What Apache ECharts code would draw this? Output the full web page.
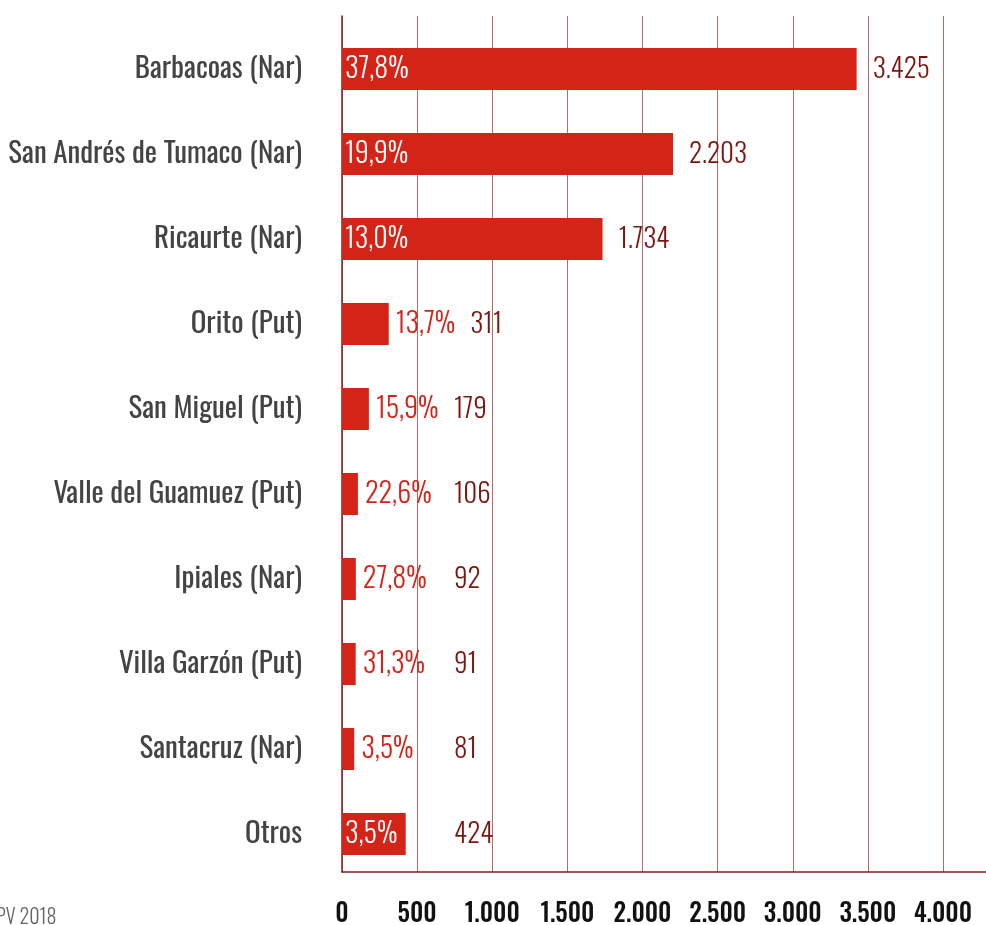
<!DOCTYPE html>
<html>
<head>
<meta charset="utf-8">
<script src="https://cdn.jsdelivr.net/npm/echarts@6/dist/echarts.min.js"></script>
<style>
html,body{margin:0;padding:0;background:#fff;}
#c{width:986px;height:925px;}
</style>
</head>
<body>
<div id="c"></div>
<script>
const categories = ['Barbacoas (Nar)', 'San Andrés de Tumaco (Nar)', 'Ricaurte (Nar)', 'Orito (Put)', 'San Miguel (Put)', 'Valle del Guamuez (Put)', 'Ipiales (Nar)', 'Villa Garzón (Put)', 'Santacruz (Nar)', 'Otros'];
const values = [3425, 2203, 1734, 311, 179, 106, 92, 91, 81, 424];
const shares = ['37,8%', '19,9%', '13,0%', '13,7%', '15,9%', '22,6%', '27,8%', '31,3%', '3,5%', '3,5%'];
const xTicks = [0, 500, 1000, 1500, 2000, 2500, 3000, 3500, 4000];

const FONT = "Oswald, 'Roboto Condensed', 'DejaVu Sans Condensed', sans-serif";
const RED = '#d42418';
const DARK = '#7a1710';
const INSIDE_MIN = 400;
const VALUE_LABEL_MIN = 745;
const X_MAX = 4286;
const PCT_SIZE = 28;
const PCT_W = 300;
const VAL_SIZE = 27;
const VAL_W = 300;

function fmt(n) { return String(n).replace(/\B(?=(\d{3})+(?!\d))/g, '.'); }

const mctx = document.createElement('canvas').getContext('2d');
function textW(t, size, weight) { mctx.font = weight + ' ' + size + 'px ' + FONT; return mctx.measureText(t).width; }

const chart = echarts.init(document.getElementById('c'), null, {renderer: 'canvas'});
chart.setOption({
  animation: false,
  backgroundColor: '#fff',
  grid: [
    {left: 342, right: 0, top: 16, bottom: 53, outerBoundsMode: 'none'},
    {left: 342, right: 0, top: 26.5, bottom: 48.5, outerBoundsMode: 'none'}
  ],
  xAxis: [
    {
      gridIndex: 0, type: 'value', min: 0, max: X_MAX, interval: 500,
      axisLine: {show: true, lineStyle: {color: '#8b1c1c', width: 1.5}},
      axisTick: {show: false},
      splitLine: {show: true, lineStyle: {color: '#b46a6a', width: 1}},
      axisLabel: {
        margin: 30, color: '#111', fontFamily: FONT, fontSize: 25, fontWeight: 500,
        formatter: v => xTicks.indexOf(v) >= 0 ? fmt(v) : ''
      }
    },
    {gridIndex: 1, type: 'value', min: 0, max: X_MAX, show: false}
  ],
  yAxis: [
    {
      gridIndex: 0, type: 'value', min: 0, max: 1,
      axisLine: {show: true, lineStyle: {color: '#8b1c1c', width: 1.5}},
      axisTick: {show: false}, axisLabel: {show: false}, splitLine: {show: false}
    },
    {
      gridIndex: 1, type: 'category', inverse: true, data: categories,
      axisLine: {show: false}, axisTick: {show: false}, splitLine: {show: false},
      axisLabel: {margin: 40, color: '#444', fontFamily: FONT, fontWeight: 400, fontSize: 29}
    }
  ],
  series: [
    {
      type: 'bar', xAxisIndex: 1, yAxisIndex: 1, barWidth: 42,
      data: values.map((v, i) => ({
        value: v,
        label: v >= INSIDE_MIN
          ? {show: true, position: 'insideLeft', distance: 3, color: '#fff'}
          : {show: true, position: 'right', distance: 7, color: RED}
      })),
      itemStyle: {color: RED},
      label: {fontFamily: FONT, fontWeight: PCT_W, fontSize: PCT_SIZE, formatter: p => shares[p.dataIndex]}
    },
    {
      type: 'custom', xAxisIndex: 1, yAxisIndex: 1, clip: false,
      data: values.map((v, i) => [v, i]),
      encode: {x: 0, y: 1},
      renderItem: function (params, api) {
        const v = api.value(0), i = api.value(1);
        const end = api.coord([v, i]);
        const minX = api.coord([VALUE_LABEL_MIN, i])[0];
        let x;
        if (v >= INSIDE_MIN) x = end[0] + 16;
        else x = end[0] + 7 + textW(shares[i], PCT_SIZE, PCT_W) + 15;
        x = Math.max(x, minX);
        return {
          type: 'text',
          style: {x: x, y: end[1] + 1, text: fmt(v), fill: DARK, font: VAL_W + ' ' + VAL_SIZE + 'px ' + FONT, verticalAlign: 'middle', align: 'left'}
        };
      }
    }
  ],
  graphic: [
    {type: 'text', left: -4, top: 908, style: {text: 'PV 2018', fill: '#666', font: '300 20px ' + FONT}}
  ]
});
</script>
</body>
</html>
